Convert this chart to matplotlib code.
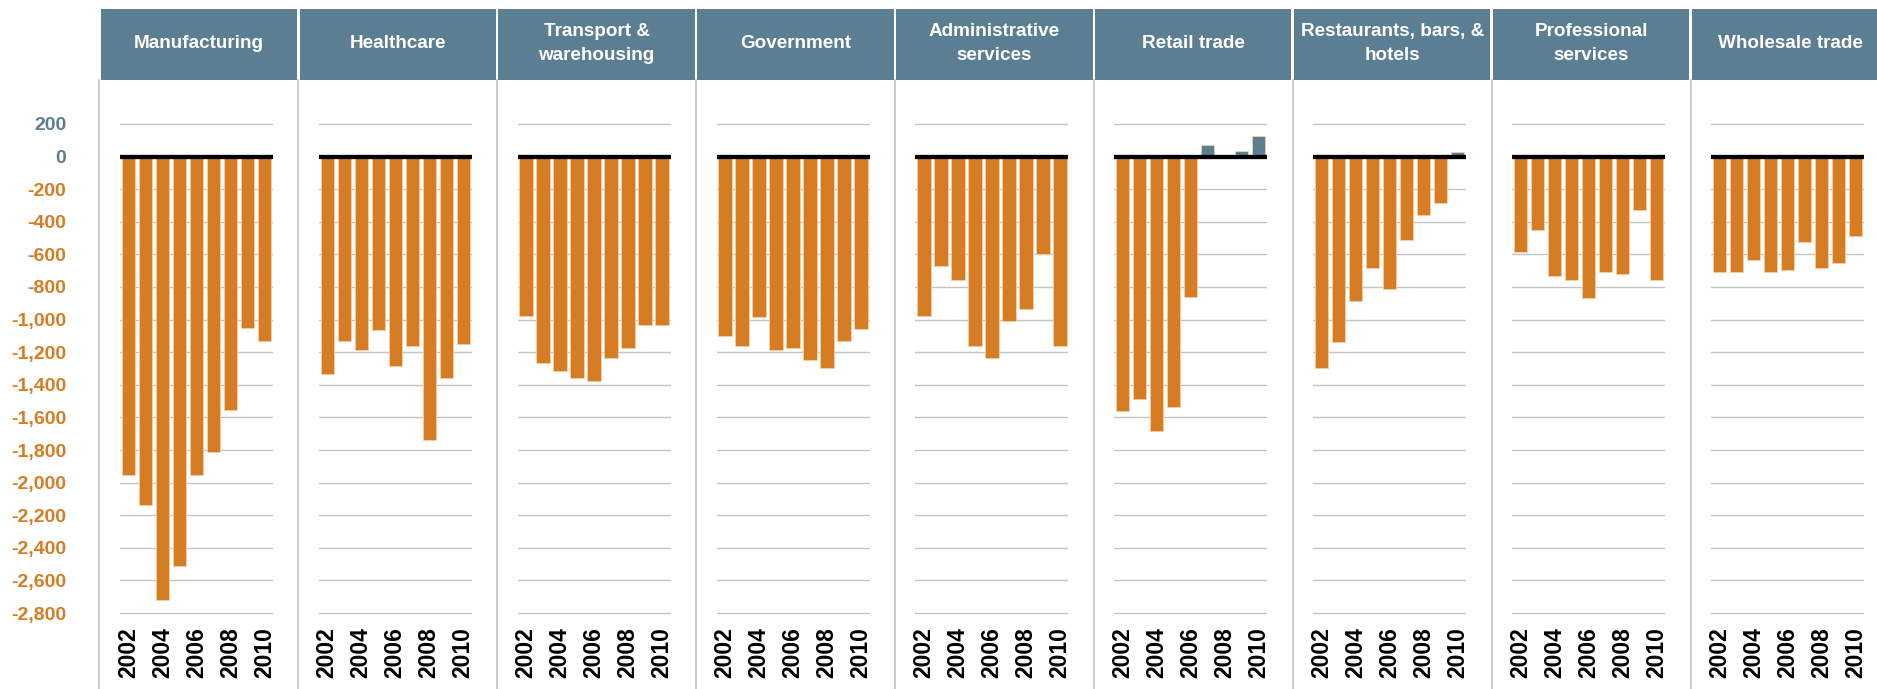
#!/usr/bin/env python3
"""Small-multiple bar chart: yearly change by sector, 2002-2010."""
import matplotlib
matplotlib.use("Agg")
import matplotlib.pyplot as plt
from matplotlib.patches import Rectangle
from matplotlib.lines import Line2D

years = [2002, 2003, 2004, 2005, 2006, 2007, 2008, 2009, 2010]
sectors = ["Manufacturing", "Healthcare", "Transport &\nwarehousing", "Government",
           "Administrative\nservices", "Retail trade", "Restaurants, bars, &\nhotels",
           "Professional\nservices", "Wholesale trade"]

manufacturing = [-1955, -2135, -2720, -2510, -1955, -1815, -1555, -1050, -1130]
healthcare = [-1335, -1130, -1185, -1065, -1285, -1160, -1740, -1360, -1150]
transport = [-975, -1265, -1315, -1360, -1375, -1235, -1175, -1035, -1035]
government = [-1100, -1165, -985, -1185, -1175, -1250, -1300, -1130, -1060]
administrative = [-975, -670, -755, -1160, -1235, -1010, -935, -595, -1165]
retail = [-1560, -1490, -1685, -1535, -860, 70, 0, 35, 125]
restaurants = [-1295, -1135, -885, -685, -810, -510, -360, -285, 30]
professional = [-585, -450, -730, -760, -870, -710, -720, -330, -755]
wholesale = [-710, -705, -635, -710, -695, -525, -685, -650, -485]

y_ticks = [200, 0, -200, -400, -600, -800, -1000, -1200, -1400, -1600,
           -1800, -2000, -2200, -2400, -2600, -2800]
year_ticks = [2002, 2004, 2006, 2008, 2010]

BLUE = "#5b7e93"
ORANGE = "#d67c22"
GRID = "#c4c4c4"
FONT = ["Liberation Sans", "DejaVu Sans"]
W, H = 1877, 689


def fx(px):
    return px / W


def fy(py):
    return 1 - py / H


def draw_panel(fig, i, name, values):
    pl = 99.3 + 198.9 * i
    top, bot = 119.1, 617.9
    ax = fig.add_axes([fx(pl + 20.5), fy(bot), fx(153), (bot - top) / H])
    x = list(range(len(years)))
    colors = [BLUE if v > 0 else ORANGE for v in values]
    ax.bar(x, values, width=0.78, color=colors, edgecolor="#f3cfa8",
           linewidth=0.6, zorder=2)
    ax.axhline(0, color="black", lw=3.1, zorder=3)
    ax.set_xlim(-0.5, len(years) - 0.5)
    ax.set_ylim(-2830, 230)
    ax.set_yticks(y_ticks)
    ax.yaxis.grid(True, color=GRID, lw=1.0, zorder=0)
    ax.set_axisbelow(True)
    for s in ax.spines.values():
        s.set_visible(False)
    ax.set_xticks([years.index(y) for y in year_ticks])
    ax.set_xticklabels([str(y) for y in year_ticks], rotation=90,
                       fontsize=16.5, fontweight="bold", family=FONT)
    ax.tick_params(axis="x", length=0, pad=7)
    if i == 0:
        ax.set_yticklabels([f"{t:,}" for t in y_ticks], fontsize=14,
                           fontweight="bold", family=FONT)
        for lab, t in zip(ax.get_yticklabels(), y_ticks):
            lab.set_color(BLUE if t >= 0 else ORANGE)
        ax.tick_params(axis="y", length=0, pad=38.5)
    else:
        ax.tick_params(axis="y", length=0, labelleft=False)

    # header box and separator
    fig.add_artist(Rectangle((fx(pl + 1.3), fy(80)), fx(196.3), 71 / H,
                             transform=fig.transFigure, facecolor=BLUE,
                             edgecolor="none"))
    fig.text(fx(pl + 99.5), fy(43.5), name, color="white", fontsize=13.6,
             fontweight="bold", family=FONT, ha="center", va="center",
             linespacing=1.5)
    fig.add_artist(Line2D([fx(pl), fx(pl)], [fy(80), 0],
                          transform=fig.transFigure, color=GRID, lw=1.2))


def main():
    fig = plt.figure(figsize=(W / 100, H / 100), dpi=100)
    series = [manufacturing, healthcare, transport, government, administrative,
              retail, restaurants, professional, wholesale]
    for i, (name, vals) in enumerate(zip(sectors, series)):
        draw_panel(fig, i, name, vals)
    fig.savefig("out.png", dpi=100)
    plt.close(fig)


if __name__ == "__main__":
    main()
